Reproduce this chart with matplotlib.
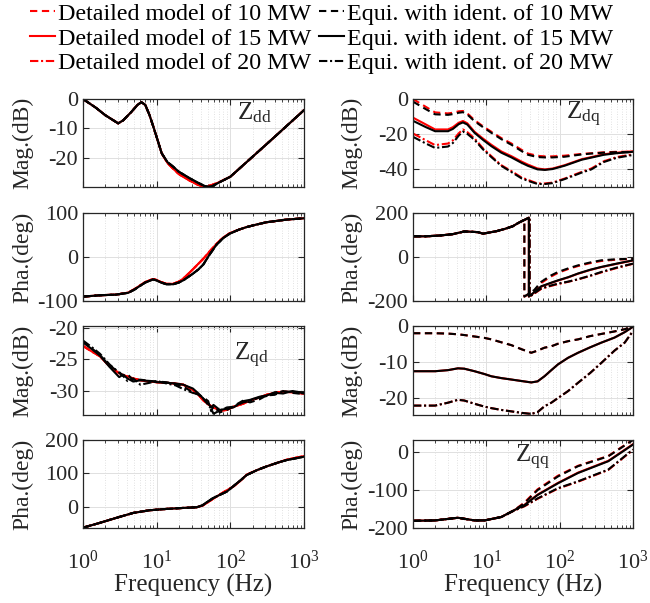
import matplotlib
matplotlib.use("Agg")
import matplotlib.pyplot as plt
from matplotlib.lines import Line2D

plt.rcParams['font.family'] = ['Liberation Serif', 'DejaVu Serif']
plt.rcParams['mathtext.fontset'] = 'custom'
plt.rcParams['mathtext.rm'] = 'Liberation Serif'
plt.rcParams['mathtext.it'] = 'Liberation Serif:italic'
plt.rcParams['mathtext.bf'] = 'Liberation Serif:bold'
plt.rcParams['axes.unicode_minus'] = False

# ---------------- data ----------------
legend_labels = ["Detailed model of 10 MW", "Detailed model of 15 MW", "Detailed model of 20 MW",
                 "Equi. with ident. of 10 MW", "Equi. with ident. of 15 MW", "Equi. with ident. of 20 MW"]

# Z_dd magnitude
f_zdd_mag = [1, 1.5, 2, 3, 3.5, 4.5, 5.5, 6.2, 7, 8, 9, 10, 11.7, 14, 16.8, 20, 28, 36, 45, 55, 70, 100, 200, 400, 1000]
zdd_mag_red = [0, -3, -5.5, -8.3, -7.3, -4.5, -2, -1.1, -2, -5.5, -9.4, -13, -18.5, -21.8, -23.8, -25.6, -27.8, -29.2, -30, -29.4, -28.4, -26.5, -19.7, -12.9, -3.8]
zdd_mag_blk = [0, -3, -5.5, -8.3, -7.3, -4.5, -2, -1.1, -2, -5.5, -9.4, -13, -18.5, -21.5, -23.1, -24.8, -27, -28.5, -29.7, -29.9, -28.5, -26.5, -19.7, -12.9, -3.8]

# Z_dd phase
f_zdd_pha = [1, 1.7, 2.8, 4.1, 5, 5.9, 7, 8.9, 9.9, 11.5, 13.6, 16.7, 20, 23, 27, 31, 37, 43, 52, 65, 80, 98, 130, 166, 230, 310, 580, 1000]
zdd_pha_red = [-90, -87, -85.5, -81, -73, -65, -57, -50, -52, -57, -61, -61, -56, -49, -38, -28, -15, -4, 12, 30, 44, 54, 62, 68, 74, 79, 85, 88]
zdd_pha_blk = [-90, -87, -85.5, -81.5, -74, -66, -58, -51, -53, -58, -62, -62, -58, -53, -45, -38, -28, -17, 5, 28, 43, 53, 62, 68, 74, 79, 85, 88]

# Z_dq magnitude
f_zdq_mag = [1, 1.5, 2, 3, 3.5, 4.2, 4.8, 5.5, 6.9, 9, 11.7, 16, 22, 30, 37, 50, 63, 80, 117, 200, 270, 400, 600, 1000]
zdq_mag_r10 = [0, -4.5, -7.6, -8.2, -7.8, -7, -6.8, -8.2, -12, -15.5, -18.6, -22.2, -25.3, -28.8, -31, -32.3, -32.6, -32.6, -32.2, -31.2, -30.8, -30.3, -30, -30]
zdq_mag_b10 = [-1.5, -5.8, -8.7, -9, -8.6, -7.8, -7.5, -8.8, -12.6, -16, -19.2, -22.8, -26, -29.5, -31.7, -33, -33.2, -33.2, -32.8, -31.5, -31, -30.5, -30.2, -30.2]
zdq_mag_r15 = [-10.6, -14.5, -17.3, -17.3, -16, -13.5, -12.5, -13.8, -18.6, -22.5, -26, -29.8, -32.5, -35.5, -37.3, -39.5, -40, -39.5, -37.6, -34.2, -33, -31.4, -30.5, -29.7]
zdq_mag_b15 = [-12.4, -16, -18.3, -18.3, -17, -14.3, -13.3, -14.5, -19.2, -23.2, -26.8, -30.5, -33.2, -36.2, -38, -40, -40.3, -39.8, -37.9, -34.5, -33.3, -31.7, -30.8, -30]
zdq_mag_r20 = [-19.6, -23.5, -26.2, -25.3, -23.5, -19.5, -17.3, -18.8, -22.4, -28, -32.5, -37.6, -41, -44.5, -46, -48, -48, -47.5, -45.2, -41.4, -39.5, -35.4, -33, -31.4]
zdq_mag_b20 = [-21.5, -25.3, -27.8, -27, -25, -20.8, -18.5, -19.8, -23.2, -28.6, -33, -38, -41.5, -45, -46.5, -48.3, -48.3, -47.8, -45.5, -41.8, -40, -35.8, -33.4, -31.8]

# Z_dq phase (wraps from +180 to -180)
f_zdq_pha_lo = [1, 1.5, 2.4, 3.5, 5, 6, 7.7, 9, 10.5, 14, 18, 23, 27]
zdq_pha_lo = [94, 94, 98, 104, 116, 115, 113, 106, 110, 118, 128, 140, 154]
f_zdq_jump = [33, 38, 39]
zdq_pha_before_jump = [170, 179, 180]
zdq_pha_after_jump = [-180, -180, -180]
f_zdq_pha_hi = [45, 56, 75, 95, 130, 178, 260, 370, 600, 1000]
zdq_pha_r10 = [-155, -118, -90, -72, -55, -41, -28, -18, -12, -9]
zdq_pha_b10 = [-150, -113, -85, -68, -52, -38, -25, -15, -10, -8]
zdq_pha_r15 = [-162, -135, -119, -107, -93, -76, -59, -46, -31, -16]
zdq_pha_b15 = [-160, -133, -118, -106, -92, -75, -58, -45, -30, -15]
zdq_pha_r20 = [-167, -145, -132, -123, -113, -102, -86, -70, -50, -31]
zdq_pha_b20 = [-165, -143, -130, -121, -112, -101, -85, -68, -48, -30]

# Z_qd magnitude
f_zqd_mag = [1, 1.3, 1.7, 2.3, 3.1, 3.5, 4, 4.8, 6, 8, 10, 13.5, 18, 23, 31, 37, 43, 50, 55, 59, 72, 90, 110, 150, 185, 250, 310, 400, 520, 700, 1000]
zqd_mag_red = [-22.85, -23.7, -24.5, -26.1, -27.2, -27.5, -27.7, -28, -28.3, -28.5, -28.6, -28.7, -28.8, -29, -29.8, -30.6, -31.5, -32.1, -32.4, -32.6, -33.1, -33, -32.5, -32, -31.5, -31, -30.6, -30.3, -30.1, -30.2, -30.4]
zqd_mag_b10 = [-22.2, -23.2, -24.3, -26.0, -27.0, -27.6, -27.3, -28.3, -28.2, -28.4, -28.5, -28.6, -28.9, -29.3, -30.2, -30.6, -31.0, -31.6, -33.2, -32.4, -33.4, -33.0, -32.4, -31.5, -31.8, -31.3, -30.7, -30.6, -30.0, -30.3, -30.5]
zqd_mag_b15 = [-22.3, -23.3, -24.4, -26.2, -27.8, -27.4, -28.0, -28.5, -28.3, -28.4, -28.6, -28.7, -28.8, -29.0, -29.6, -30.4, -31.2, -32.0, -32.6, -32.2, -33.0, -32.8, -32.6, -31.6, -31.4, -30.9, -30.7, -30.3, -30.4, -30.0, -30.3]
zqd_mag_b20 = [-22.0, -23.0, -24.1, -25.8, -27.1, -27.6, -28.4, -28.0, -29.0, -28.7, -28.4, -28.8, -29.1, -29.7, -30.3, -30.5, -31.2, -32.2, -32.8, -33.6, -33.1, -32.6, -32.5, -31.8, -31.6, -31.0, -30.8, -30.2, -30.1, -30.1, -30.4]

# Z_qq magnitude
f_zqq_mag = [1, 2, 3, 4.1, 5, 6.9, 9.5, 11.7, 16, 22, 30, 41, 50, 62, 77, 95, 130, 178, 260, 370, 560, 770, 1000]
zqq_mag_10 = [-2, -2, -2.1, -2.3, -2.5, -2.9, -3.3, -3.7, -4.5, -5.3, -6.4, -7.4, -6.8, -6, -5.6, -4.9, -4.2, -3.7, -2.8, -2.2, -1.5, -0.9, -0.2]
zqq_mag_15 = [-12.5, -12.5, -12.2, -11.7, -11.8, -12.5, -13.3, -13.9, -14.4, -14.8, -15.2, -15.6, -15.3, -13.9, -12.2, -10.6, -8.8, -7.4, -5.9, -4.6, -3.2, -1.7, -0.2]
zqq_mag_20 = [-22, -22, -21.2, -20.4, -20.6, -21.5, -22.3, -22.7, -23.2, -23.6, -24, -24.3, -23.8, -22.2, -21.2, -19.9, -18, -15.7, -13, -10.2, -6.8, -4.6, -1.4]

# Z_qd phase
f_zqd_pha = [1, 1.7, 2.8, 4.8, 8, 13.6, 23, 35, 42, 48, 58, 72, 90, 110, 140, 166, 230, 310, 450, 580, 1000]
zqd_pha_red = [-62, -47.5, -33, -18, -10, -6, -3, -1, 4, 12, 24, 37, 50, 61, 80, 96, 110, 121, 133, 141, 152]
zqd_pha_blk = [-62, -47.5, -33, -18, -10, -6, -3, -1, 5, 14, 26, 36, 46, 62, 81, 95, 110, 121, 133, 140, 150]

# Z_qq phase
f_zqq_pha = [1, 2, 4.1, 6.9, 9.5, 16, 24, 33, 50, 95, 178, 460, 1000]
zqq_pha_r10 = [-181, -180, -173, -180, -180, -171, -153, -133, -98, -62, -36, -10, 33]
zqq_pha_b10 = [-181, -180, -173, -180, -180, -171, -153, -135, -100, -64, -37, -11, 32]
zqq_pha_r15 = [-181, -180, -173, -180, -180, -171, -153, -139, -112, -81, -54, -23, 21]
zqq_pha_b15 = [-181, -180, -173, -180, -180, -171, -153, -140, -113, -82, -55, -24, 20]
zqq_pha_r20 = [-181, -180, -173, -180, -180, -171, -154, -143, -123, -96, -78, -47, 6]
zqq_pha_b20 = [-181, -180, -173, -180, -180, -171, -154, -142, -122, -95, -77, -46, 7]

# ---------------- styles ----------------
RED = '#ff0000'
BLK = '#000000'
LS = {10: (0, (3.5, 2.2)), 15: '-', 20: (0, (4, 1.3, 1, 1.3))}
LW = 1.5

W, H = 650, 603
fig = plt.figure(figsize=(W / 100, H / 100), dpi=100)

cols = [(83, 304), (413, 633)]
rows = [(99, 187), (213, 301), (326, 415), (440, 528)]


def make_ax(r, c):
    x0, x1 = cols[c]
    y0, y1 = rows[r]
    ax = fig.add_axes([x0 / W, 1 - y1 / H, (x1 - x0) / W, (y1 - y0) / H])
    ax.set_xscale('log')
    ax.set_xlim(1, 1000)
    ax.tick_params(which='both', direction='in', top=True, right=True, labelsize=16,
                   colors='#262626', labelcolor='#262626')
    ax.tick_params(which='major', length=4, width=0.8)
    ax.tick_params(which='minor', length=2, width=0.6)
    ax.tick_params(axis='x', which='both', pad=16)
    ax.grid(True, which='major', color='#e0e0e0', lw=0.7, ls='-')
    ax.grid(True, which='minor', axis='x', color='#d8d8d8', lw=0.6, ls=(0, (1, 2)))
    ax.set_axisbelow(True)
    for s in ax.spines.values():
        s.set_color('#262626')
        s.set_linewidth(0.9)
    if r < 3:
        ax.tick_params(labelbottom=False)
    else:
        ax.set_xlabel('Frequency (Hz)', fontsize=18, color='#262626', labelpad=0.5)
    ylab = 'Mag.(dB)' if r in (0, 2) else 'Pha.(deg)'
    ax.set_ylabel(ylab, fontsize=17, color='#262626')
    ax.yaxis.set_label_coords(-0.226 if c == 0 else -0.232, 0.5)
    return ax


def draw(ax, f, series):
    for mw, vals, color in series:
        ax.plot(f, vals, color=color, ls=LS[mw], lw=LW)


# Row 0 left: Zdd mag
ax = make_ax(0, 0)
for mw in (10, 15, 20):
    ax.plot(f_zdd_mag, zdd_mag_red, color=RED, ls=LS[mw], lw=LW)
for mw in (10, 15, 20):
    ax.plot(f_zdd_mag, zdd_mag_blk, color=BLK, ls=LS[mw], lw=LW)
ax.set_ylim(-30, 0)
ax.set_yticks([-20, -10, 0])

# Row 0 right: Zdq mag
ax = make_ax(0, 1)
draw(ax, f_zdq_mag, [(10, zdq_mag_r10, RED), (15, zdq_mag_r15, RED), (20, zdq_mag_r20, RED),
                     (10, zdq_mag_b10, BLK), (15, zdq_mag_b15, BLK), (20, zdq_mag_b20, BLK)])
ax.set_ylim(-50, 0)
ax.set_yticks([-40, -20, 0])

# Row 1 left: Zdd phase
ax = make_ax(1, 0)
for mw in (10, 15, 20):
    ax.plot(f_zdd_pha, zdd_pha_red, color=RED, ls=LS[mw], lw=LW)
for mw in (10, 15, 20):
    ax.plot(f_zdd_pha, zdd_pha_blk, color=BLK, ls=LS[mw], lw=LW)
ax.set_ylim(-100, 100)
ax.set_yticks([-100, 0, 100])

# Row 1 right: Zdq phase
ax = make_ax(1, 1)
hi = {10: (zdq_pha_r10, zdq_pha_b10), 15: (zdq_pha_r15, zdq_pha_b15), 20: (zdq_pha_r20, zdq_pha_b20)}
for k, color in ((0, RED), (1, BLK)):
    for i, mw in enumerate((10, 15, 20)):
        fj = f_zdq_jump[i]
        fx = f_zdq_pha_lo + [fj, fj] + f_zdq_pha_hi
        yv = zdq_pha_lo + [zdq_pha_before_jump[i], zdq_pha_after_jump[i]] + hi[mw][k]
        ax.plot(fx, yv, color=color, ls=LS[mw], lw=LW)
ax.set_ylim(-200, 200)
ax.set_yticks([-200, 0, 200])

# Row 2 left: Zqd mag
ax = make_ax(2, 0)
for mw in (10, 15, 20):
    ax.plot(f_zqd_mag, zqd_mag_red, color=RED, ls=LS[mw], lw=LW)
draw(ax, f_zqd_mag, [(10, zqd_mag_b10, BLK), (15, zqd_mag_b15, BLK), (20, zqd_mag_b20, BLK)])
ax.set_ylim(-33.8, -19.7)
ax.set_yticks([-30, -25, -20])

# Row 2 right: Zqq mag
ax = make_ax(2, 1)
draw(ax, f_zqq_mag, [(10, zqq_mag_10, RED), (15, zqq_mag_15, RED), (20, zqq_mag_20, RED),
                     (10, zqq_mag_10, BLK), (15, zqq_mag_15, BLK), (20, zqq_mag_20, BLK)])
ax.set_ylim(-24.6, 0)
ax.set_yticks([-20, -10, 0])

# Row 3 left: Zqd phase
ax = make_ax(3, 0)
for mw in (10, 15, 20):
    ax.plot(f_zqd_pha, zqd_pha_red, color=RED, ls=LS[mw], lw=LW)
for mw in (10, 15, 20):
    ax.plot(f_zqd_pha, zqd_pha_blk, color=BLK, ls=LS[mw], lw=LW)
ax.set_ylim(-63, 200)
ax.set_yticks([0, 100, 200])

# Row 3 right: Zqq phase
ax = make_ax(3, 1)
draw(ax, f_zqq_pha, [(10, zqq_pha_r10, RED), (15, zqq_pha_r15, RED), (20, zqq_pha_r20, RED),
                     (10, zqq_pha_b10, BLK), (15, zqq_pha_b15, BLK), (20, zqq_pha_b20, BLK)])
ax.set_ylim(-200, 32)
ax.set_yticks([-200, -100, 0])

# Panel annotations
ann = [('Z$_{\\rm dd}$', 237, 119), ('Z$_{\\rm dq}$', 566, 119),
       ('Z$_{\\rm qd}$', 234, 360), ('Z$_{\\rm qq}$', 515, 462)]
for txt, x, y in ann:
    fig.text(x / W, 1 - y / H, txt, fontsize=18, color='#262626', ha='left', va='baseline')

# Legend
handles = [Line2D([], [], color=RED, ls=LS[m], lw=LW) for m in (10, 15, 20)] + \
          [Line2D([], [], color=BLK, ls=LS[m], lw=LW) for m in (10, 15, 20)]
fig.legend(handles, legend_labels, ncol=2, loc='upper left', bbox_to_anchor=(30 / W, 1 - 3 / H),
           frameon=False, fontsize=17.3, handlelength=1.05, handletextpad=0.12, columnspacing=0.3,
           labelspacing=0.12, borderaxespad=0, borderpad=0)

fig.savefig('out.png', dpi=100)
